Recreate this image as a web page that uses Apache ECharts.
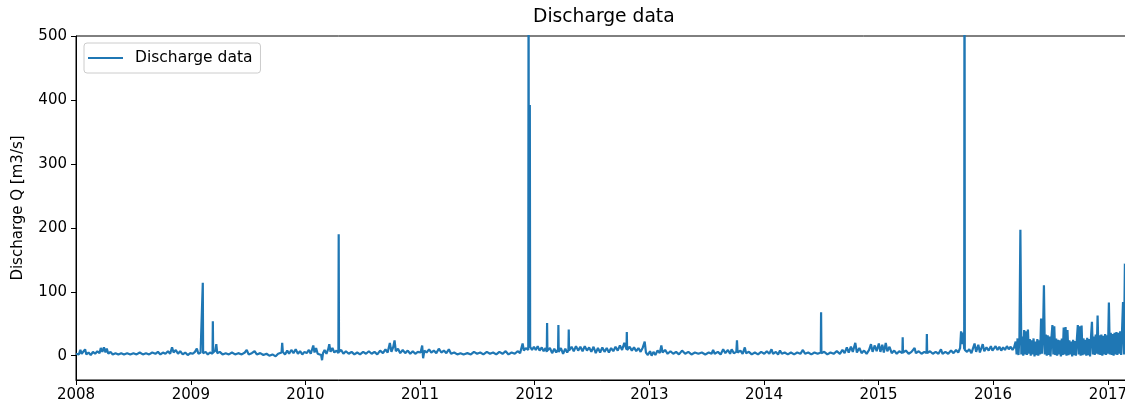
<!DOCTYPE html>
<html>
<head>
<meta charset="utf-8">
<script src="https://cdn.jsdelivr.net/npm/echarts@6/dist/echarts.min.js"></script>
<style>
html,body{margin:0;padding:0;background:#fff;}
#chart{width:1125px;height:409px;}
</style>
</head>
<body>
<div id="chart"></div>
<script>
const chartTitle = 'Discharge data';
const seriesName = 'Discharge data';
const yAxisName = 'Discharge Q [m3/s]';
const yearTicks = ['2008','2009','2010','2011','2012','2013','2014','2015','2016','2017'];
const yTicks = [0, 100, 200, 300, 400, 500];
const xRange = ['2008-01-01', '2017-03-25'];
const yRange = [-38, 500];

const q2008 = [['2008-01-01',3],['2008-01-06',6],['2008-01-10',2],['2008-01-15',9],['2008-01-19',3],['2008-01-25',5],['2008-01-30',10],['2008-02-03',2],['2008-02-10',5],['2008-02-17',1],['2008-02-24',6],['2008-03-02',3],['2008-03-09',7],['2008-03-16',4],['2008-03-20',12],['2008-03-25',6],['2008-03-30',13],['2008-04-04',5],['2008-04-08',11],['2008-04-13',3],['2008-04-20',6],['2008-04-27',2],['2008-05-06',4],['2008-05-15',2],['2008-05-24',4],['2008-06-02',2],['2008-06-12',4],['2008-06-22',2],['2008-07-02',4],['2008-07-12',2],['2008-07-22',5],['2008-08-01',2],['2008-08-11',4],['2008-08-21',2],['2008-08-31',5],['2008-09-10',3],['2008-09-18',6],['2008-09-26',2],['2008-10-04',5],['2008-10-12',3],['2008-10-20',7],['2008-10-27',3],['2008-11-02',13],['2008-11-07',5],['2008-11-14',9],['2008-11-21',3],['2008-11-28',7],['2008-12-06',2],['2008-12-14',5],['2008-12-22',1],['2008-12-30',4]];
const q2009 = [['2009-01-07',3],['2009-01-14',6],['2009-01-20',11],['2009-01-25',3],['2009-02-01',5],['2009-02-07',4],['2009-02-08',114],['2009-02-09',4],['2009-02-17',6],['2009-02-24',2],['2009-03-03',5],['2009-03-11',3],['2009-03-12',54],['2009-03-13',5],['2009-03-20',8],['2009-03-23',18],['2009-03-26',4],['2009-04-03',6],['2009-04-12',2],['2009-04-22',4],['2009-05-02',2],['2009-05-12',5],['2009-05-22',2],['2009-06-01',4],['2009-06-12',2],['2009-06-22',5],['2009-06-28',9],['2009-07-04',2],['2009-07-14',4],['2009-07-23',7],['2009-07-30',2],['2009-08-10',4],['2009-08-20',1],['2009-08-30',3],['2009-09-08',0],['2009-09-18',2],['2009-09-28',-1],['2009-10-06',3],['2009-10-12',1],['2009-10-17',5],['2009-10-19',20],['2009-10-21',6],['2009-10-28',2],['2009-11-04',8],['2009-11-10',3],['2009-11-17',9],['2009-11-24',4],['2009-12-01',10],['2009-12-08',3],['2009-12-15',7],['2009-12-22',2],['2009-12-29',6]];
const q2010 = [['2010-01-05',4],['2010-01-12',9],['2010-01-18',3],['2010-01-26',16],['2010-01-30',5],['2010-02-04',12],['2010-02-09',3],['2010-02-15',6],['2010-02-20',1],['2010-02-23',-7],['2010-02-26',4],['2010-03-03',9],['2010-03-09',3],['2010-03-15',11],['2010-03-18',18],['2010-03-22',6],['2010-03-28',12],['2010-04-03',5],['2010-04-10',8],['2010-04-16',4],['2010-04-17',190],['2010-04-18',6],['2010-04-25',9],['2010-05-02',3],['2010-05-10',7],['2010-05-19',3],['2010-05-28',6],['2010-06-06',2],['2010-06-15',5],['2010-06-24',2],['2010-07-04',6],['2010-07-13',3],['2010-07-22',7],['2010-07-31',3],['2010-08-09',6],['2010-08-18',2],['2010-08-27',8],['2010-09-05',4],['2010-09-13',10],['2010-09-20',5],['2010-09-27',20],['2010-10-02',6],['2010-10-08',14],['2010-10-12',24],['2010-10-16',7],['2010-10-23',11],['2010-10-30',4],['2010-11-07',9],['2010-11-15',4],['2010-11-23',8],['2010-12-01',3],['2010-12-09',7],['2010-12-17',3],['2010-12-25',6]];
const q2011 = [['2011-01-03',5],['2011-01-08',16],['2011-01-11',-4],['2011-01-15',8],['2011-01-22',5],['2011-01-30',10],['2011-02-06',5],['2011-02-14',8],['2011-02-22',4],['2011-03-02',11],['2011-03-10',5],['2011-03-18',8],['2011-03-26',4],['2011-04-03',10],['2011-04-10',3],['2011-04-20',5],['2011-04-30',2],['2011-05-10',4],['2011-05-20',2],['2011-06-01',4],['2011-06-12',2],['2011-06-22',6],['2011-07-02',3],['2011-07-12',5],['2011-07-22',2],['2011-08-02',6],['2011-08-12',3],['2011-08-22',5],['2011-09-01',2],['2011-09-11',6],['2011-09-21',3],['2011-10-01',7],['2011-10-10',2],['2011-10-20',5],['2011-10-30',3],['2011-11-08',7],['2011-11-16',4],['2011-11-24',19],['2011-11-28',8],['2011-12-04',12],['2011-12-12',9],['2011-12-13',650],['2011-12-14',15],['2011-12-16',13],['2011-12-17',392],['2011-12-18',14],['2011-12-24',9],['2011-12-30',14]];
const q2012 = [['2012-01-05',9],['2012-01-11',15],['2012-01-17',8],['2012-01-24',13],['2012-01-30',7],['2012-02-05',12],['2012-02-09',6],['2012-02-10',51],['2012-02-11',8],['2012-02-19',12],['2012-02-26',4],['2012-03-04',11],['2012-03-10',5],['2012-03-16',10],['2012-03-17',48],['2012-03-18',6],['2012-03-25',12],['2012-04-01',3],['2012-04-08',11],['2012-04-14',5],['2012-04-18',9],['2012-04-19',41],['2012-04-20',8],['2012-04-28',14],['2012-05-05',7],['2012-05-12',15],['2012-05-19',8],['2012-05-26',14],['2012-06-02',7],['2012-06-09',15],['2012-06-16',8],['2012-06-23',13],['2012-06-30',6],['2012-07-07',14],['2012-07-14',4],['2012-07-21',12],['2012-07-28',5],['2012-08-04',13],['2012-08-11',6],['2012-08-18',12],['2012-08-25',5],['2012-09-01',12],['2012-09-08',7],['2012-09-15',14],['2012-09-22',8],['2012-09-29',16],['2012-10-06',9],['2012-10-13',20],['2012-10-20',10],['2012-10-21',37],['2012-10-22',9],['2012-10-30',14],['2012-11-06',8],['2012-11-13',13],['2012-11-20',7],['2012-11-27',12],['2012-12-04',6],['2012-12-11',13],['2012-12-17',22],['2012-12-21',5],['2012-12-27',1]];
const q2013 = [['2013-01-03',7],['2013-01-08',0],['2013-01-14',6],['2013-01-20',1],['2013-01-27',8],['2013-02-03',4],['2013-02-08',16],['2013-02-12',5],['2013-02-20',9],['2013-02-28',3],['2013-03-09',7],['2013-03-18',3],['2013-03-27',6],['2013-04-05',2],['2013-04-15',8],['2013-04-25',3],['2013-05-05',6],['2013-05-15',2],['2013-05-26',5],['2013-06-06',3],['2013-06-17',5],['2013-06-28',2],['2013-07-09',5],['2013-07-18',3],['2013-07-23',9],['2013-07-28',3],['2013-08-07',6],['2013-08-16',2],['2013-08-24',10],['2013-08-31',4],['2013-09-08',9],['2013-09-15',3],['2013-09-20',10],['2013-09-27',4],['2013-10-05',6],['2013-10-07',24],['2013-10-09',5],['2013-10-18',8],['2013-10-25',3],['2013-11-01',13],['2013-11-05',4],['2013-11-14',6],['2013-11-23',2],['2013-12-03',5],['2013-12-13',2],['2013-12-23',6]];
const q2014 = [['2014-01-02',3],['2014-01-10',7],['2014-01-18',3],['2014-01-25',10],['2014-01-30',3],['2014-02-08',6],['2014-02-15',2],['2014-02-21',8],['2014-02-27',3],['2014-03-08',5],['2014-03-18',2],['2014-03-28',5],['2014-04-07',2],['2014-04-17',5],['2014-04-27',3],['2014-05-05',9],['2014-05-12',3],['2014-05-22',5],['2014-06-01',2],['2014-06-11',5],['2014-06-21',3],['2014-07-01',5],['2014-07-02',68],['2014-07-03',4],['2014-07-12',6],['2014-07-22',2],['2014-08-01',5],['2014-08-11',3],['2014-08-21',7],['2014-08-31',3],['2014-09-08',9],['2014-09-15',4],['2014-09-22',13],['2014-09-28',5],['2014-10-05',14],['2014-10-11',6],['2014-10-19',20],['2014-10-24',5],['2014-11-01',12],['2014-11-08',4],['2014-11-16',8],['2014-11-24',3],['2014-12-02',9],['2014-12-08',18],['2014-12-13',6],['2014-12-20',16],['2014-12-26',7]];
const q2015 = [['2015-01-02',19],['2015-01-07',6],['2015-01-13',17],['2015-01-18',5],['2015-01-24',20],['2015-01-29',7],['2015-02-05',14],['2015-02-12',4],['2015-02-20',8],['2015-02-28',3],['2015-03-08',7],['2015-03-18',4],['2015-03-19',29],['2015-03-20',5],['2015-03-29',8],['2015-04-07',3],['2015-04-16',6],['2015-04-26',12],['2015-04-30',4],['2015-05-09',7],['2015-05-18',3],['2015-05-27',6],['2015-06-03',4],['2015-06-04',34],['2015-06-05',4],['2015-06-14',7],['2015-06-23',3],['2015-07-02',6],['2015-07-11',3],['2015-07-19',10],['2015-07-24',3],['2015-08-02',6],['2015-08-11',3],['2015-08-20',8],['2015-08-28',4],['2015-09-05',9],['2015-09-12',5],['2015-09-18',12],['2015-09-21',38],['2015-09-24',18],['2015-09-28',36],['2015-10-01',10],['2015-10-02',800],['2015-10-03',9],['2015-10-10',6],['2015-10-17',10],['2015-10-24',4],['2015-11-03',19],['2015-11-08',6],['2015-11-15',17],['2015-11-20',5],['2015-11-29',18],['2015-12-04',7],['2015-12-11',13],['2015-12-18',8],['2015-12-25',15],['2015-12-30',8]];
const q2016 = [['2016-01-03',10],['2016-01-09',15],['2016-01-15',9],['2016-01-21',14],['2016-01-27',8],['2016-02-02',13],['2016-02-08',9],['2016-02-14',15],['2016-02-20',10],['2016-02-26',14],['2016-03-03',9],['2016-03-08',13]];
// 2016-03-13 .. 2017-02-24, one value every 3 days
const denseStart = '2016-03-13';
const denseStepDays = 3;
const denseValues = [22,2,27,1,29,197,2,30,0,40,2,38,1,41,3,26,0,24,2,27,-1,22,1,26,0,24,2,58,3,30,110,2,33,0,32,1,30,-1,28,48,2,46,1,27,0,25,2,24,-1,27,1,44,2,45,0,40,1,24,2,22,-1,25,1,23,0,26,48,2,46,0,47,1,27,2,25,0,28,1,26,-1,29,53,2,30,1,33,3,63,2,32,1,33,0,31,2,34,1,32,3,83,2,36,1,34,0,36,2,37,1,36,3,38,1,40,84,2,144];

const DAY = 86400000;
const sparse = [].concat(q2008, q2009, q2010, q2011, q2012, q2013, q2014, q2015, q2016)
  .map(function (p) { return [Date.parse(p[0]), p[1]]; });
const dense = denseValues.map(function (v, i) { return [Date.parse(denseStart) + i * denseStepDays * DAY, v]; });
const seriesData = sparse.concat(dense);
const yearTickValues = yearTicks.map(function (y) { return Date.parse(y + '-01-01'); });

const FONT = 'DejaVu Sans';
const chart = echarts.init(document.getElementById('chart'), null, { renderer: 'canvas' });
chart.setOption({
  animation: false,
  backgroundColor: '#ffffff',
  title: {
    text: chartTitle,
    left: 533, top: 8, padding: 0,
    textStyle: { fontFamily: FONT, fontSize: 18.7, fontWeight: 'normal', color: '#000' }
  },
  legend: {
    left: 84, top: 43,
    padding: [7, 8, 7, 4],
    icon: 'rect',
    itemWidth: 35, itemHeight: 2,
    backgroundColor: 'rgba(255,255,255,0.8)',
    borderColor: '#cccccc', borderWidth: 1, borderRadius: 3,
    textStyle: { fontFamily: FONT, fontSize: 15.5, color: '#000', padding: [0, 0, 0, 7] },
    data: [seriesName]
  },
  grid: {
    left: 76, right: -9, top: 36, bottom: 29,
    containLabel: false,
    outerBoundsMode: 'none',
    show: true, borderColor: '#000', borderWidth: 1, backgroundColor: '#fff'
  },
  xAxis: {
    type: 'value',
    min: Date.parse(xRange[0]), max: Date.parse(xRange[1]),
    splitLine: { show: false },
    axisLine: { show: true, onZero: false, lineStyle: { color: '#000', width: 1 } },
    axisTick: { show: true, length: 5, lineStyle: { color: '#000' }, customValues: yearTickValues },
    axisLabel: { show: true, margin: 8, color: '#000', fontFamily: FONT, fontSize: 15, customValues: yearTickValues,
      formatter: function (v) { return String(new Date(v).getUTCFullYear()); } }
  },
  yAxis: {
    type: 'value',
    min: yRange[0], max: yRange[1],
    name: yAxisName, nameLocation: 'middle', nameGap: 50, nameRotate: 90,
    nameTextStyle: { fontFamily: FONT, fontSize: 15, color: '#000' },
    splitLine: { show: false },
    axisLine: { show: true, onZero: false, lineStyle: { color: '#000', width: 1 } },
    axisTick: { show: true, length: 5, lineStyle: { color: '#000' }, customValues: yTicks },
    axisLabel: { show: true, margin: 9, color: '#000', fontFamily: FONT, fontSize: 15, customValues: yTicks }
  },
  series: [{
    name: seriesName,
    type: 'line',
    data: seriesData,
    symbol: 'none',
    showSymbol: false,
    clip: true,
    sampling: null,
    color: '#1f77b4',
    lineStyle: { color: '#1f77b4', width: 2.2 }
  }]
});
</script>
</body>
</html>
